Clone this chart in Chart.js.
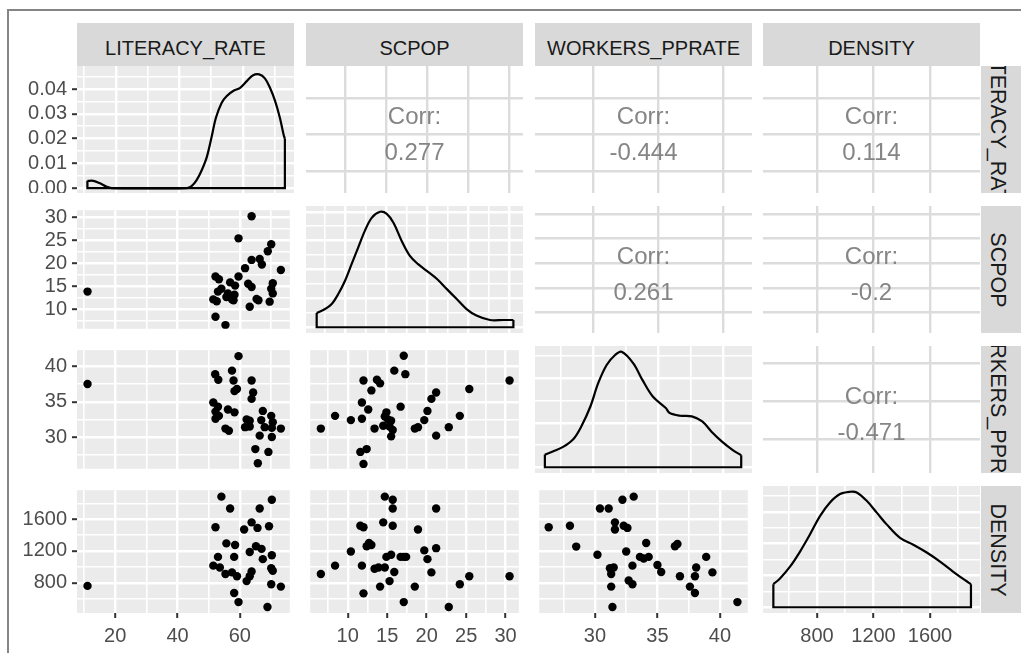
<!DOCTYPE html>
<html>
<head>
<meta charset="utf-8">
<title>Pairs plot</title>
<script src="https://cdn.jsdelivr.net/npm/chart.js@4.4.1/dist/chart.umd.min.js"></script>
<style>
  html, body { margin: 0; padding: 0; background: #fff; }
  body { width: 1021px; height: 653px; position: relative; overflow: hidden; font-family: "Liberation Sans", Arial, sans-serif; }
  .frame { position: absolute; left: 7px; top: 9px; width: 1100px; height: 700px; border-left: 2px solid #858585; border-top: 2px solid #858585; }
  .strip { position: absolute; background: #D9D9D9; color: #1A1A1A; font-size: 20px; overflow: hidden; white-space: nowrap; }
  .strip.top { height: 43px; line-height: 50px; text-align: center; }
  .strip.side span { position: absolute; top: 50%; left: 4px; font-size: 21.5px; writing-mode: vertical-rl; line-height: 26px; transform: translateY(-50%); }
  canvas { position: absolute; }
</style>
</head>
<body>
<div class="frame"></div>
<div id="plot"></div>
<script>
// ---- variables and their scales ----
const variables = ['LITERACY_RATE', 'SCPOP', 'WORKERS_PPRATE', 'DENSITY'];
const xRanges = [[7.72, 76.07], [5.25, 31.67], [25.54, 42.23], [417.7, 1954]];
const yRanges = [[8.3, 77.2], [5.79, 31.63], [25.51, 42.29], [418.6, 1965]];
const majorBreaks = [[20, 40, 60], [10, 15, 20, 25, 30], [30, 35, 40], [800, 1200, 1600]];
const minorBreaks = [[10, 30, 50, 70], [7.5, 12.5, 17.5, 22.5, 27.5], [27.5, 32.5, 37.5], [600, 1000, 1400, 1800]];

// ---- density scales on the diagonal ----
const densityMajor = [[0, 0.01, 0.02, 0.03, 0.04], [0, 0.02, 0.04, 0.06, 0.08], [0, 0.05, 0.1], [0, 0.0002, 0.0004, 0.0006]];
const densityMinor = [[0.005, 0.015, 0.025, 0.035, 0.045], [0.01, 0.03, 0.05, 0.07], [0.025, 0.075, 0.125], [0.0001, 0.0003, 0.0005, 0.0007]];
const literacyDensityRange = [-0.002, 0.0493];

// ---- kernel density curves ----
const literacyCurveX = [11.0, 12.9, 15.0, 17.1, 18.6, 42.3, 43.8, 45.4, 47.0, 48.6, 50.1, 51.5, 53.3, 54.9, 56.9, 59.1, 61.2, 63.2, 65.1, 66.9, 68.5, 70.1, 71.6, 72.9, 73.2];
const literacyCurveY = [0.0029, 0.0029, 0.0019, 0.0005, 0.0, 0.0, 0.0008, 0.0032, 0.0072, 0.0125, 0.0205, 0.0285, 0.0345, 0.0372, 0.0392, 0.0405, 0.0432, 0.0456, 0.0459, 0.0443, 0.0405, 0.0352, 0.0285, 0.0210, 0.0200];

const scpopCurveX = [6.55, 7.57, 8.38, 9.18, 10.0, 10.8, 11.6, 12.4, 13.25, 14.26, 15.08, 15.9, 16.9, 17.9, 18.9, 19.95, 21.2, 22.4, 23.6, 24.8, 26.0, 27.65, 29.3, 30.5];
const scpopCurveY = [0.0099, 0.0126, 0.0161, 0.0230, 0.0322, 0.0437, 0.0552, 0.0666, 0.0758, 0.0800, 0.0786, 0.0724, 0.0598, 0.0494, 0.0437, 0.0391, 0.0334, 0.0264, 0.0195, 0.0126, 0.0081, 0.0050, 0.0050, 0.0050];

const workersCurveX = [26.3, 26.95, 27.7, 28.5, 29.1, 29.8, 30.4, 31.05, 31.7, 32.2, 33.1, 33.8, 34.6, 35.6, 35.9, 36.7, 37.6, 38.4, 39.1, 39.9, 40.7, 41.4];
const workersCurveY = [0.0142, 0.0179, 0.0229, 0.0319, 0.0459, 0.0684, 0.0946, 0.1151, 0.1264, 0.1300, 0.1170, 0.0983, 0.0796, 0.0666, 0.0610, 0.0580, 0.0572, 0.0516, 0.0403, 0.0291, 0.0199, 0.0134];

const densityCurveX = [491, 538, 609, 680, 750, 821, 892, 963, 1034, 1081, 1152, 1223, 1293, 1388, 1482, 1577, 1671, 1765, 1848, 1890];
const densityCurveY = [0.000145, 0.000181, 0.000255, 0.000350, 0.000457, 0.000573, 0.000659, 0.000712, 0.000726, 0.000722, 0.000669, 0.000595, 0.000521, 0.000436, 0.000393, 0.000344, 0.000287, 0.000223, 0.000170, 0.000145];

// ---- scatter pairs [x, y] ----
const literacyVsScpop = [[11.1,13.9],[63.8,30.3],[59.6,25.5],[70.1,24.2],[69.0,22.7],[63.8,20.8],[66.4,21.0],[67.1,19.8],[61.7,19.0],[73.2,18.6],[52.2,17.2],[53.3,16.6],[59.6,17.2],[56.9,15.9],[58.5,15.2],[62.7,15.6],[63.8,14.9],[70.6,15.7],[70.1,14.5],[54.1,14.5],[53.0,13.9],[56.2,13.5],[58.3,13.2],[55.7,12.7],[70.6,13.5],[51.5,12.2],[52.6,11.8],[57.5,12.2],[58.0,12.0],[65.4,12.3],[66.0,12.0],[69.6,11.7],[63.2,10.6],[52.2,8.4],[55.4,6.6]];
const literacyVsWorkers = [[11.1,37.5],[59.6,41.45],[52.1,38.9],[53.1,38.1],[57.5,39.4],[58.0,38.0],[63.8,38.0],[59.1,36.8],[58.3,36.5],[64.3,36.3],[63.8,35.4],[51.5,34.9],[53.0,34.3],[56.2,33.9],[58.3,33.5],[52.2,33.6],[53.3,33.0],[52.2,32.6],[67.4,33.7],[70.1,33.0],[62.2,32.5],[63.2,32.3],[66.9,32.4],[70.6,32.1],[61.7,31.4],[63.2,31.5],[68.0,31.4],[70.3,31.3],[73.2,31.2],[55.4,31.2],[56.5,30.9],[66.4,30.2],[70.3,30.0],[65.0,28.3],[69.2,27.9],[65.8,26.3]];
const literacyVsDensity = [[11.1,760],[54.1,1884],[70.3,1844],[56.9,1734],[66.4,1734],[52.2,1499],[63.8,1560],[61.4,1470],[65.7,1490],[69.4,1511],[55.7,1295],[58.5,1275],[65.2,1259],[67.0,1226],[63.2,1186],[70.3,1146],[58.2,1125],[53.0,1125],[67.4,1097],[51.5,1015],[53.6,991],[70.1,982],[70.6,951],[55.4,909],[57.5,930],[59.1,881],[63.8,942],[63.2,881],[62.2,820],[70.1,780],[73.2,751],[58.2,671],[59.6,556],[68.9,495]];
const scpopVsWorkers = [[6.6,31.2],[8.4,33.0],[10.4,32.4],[11.8,32.6],[11.8,34.9],[12.6,33.9],[12.0,38.0],[13.7,38.1],[14.1,37.6],[13.0,36.6],[15.9,39.4],[17.1,41.5],[17.3,38.9],[16.7,34.3],[14.9,33.5],[14.7,32.9],[15.1,32.5],[15.5,32.3],[14.5,31.6],[13.4,31.2],[15.3,31.5],[15.7,31.0],[15.5,30.1],[11.6,27.9],[12.4,28.3],[12.0,26.2],[18.5,31.2],[18.9,31.4],[19.7,32.4],[20.1,33.7],[20.6,35.4],[21.2,36.3],[21.2,30.2],[22.8,31.4],[24.2,33.0],[25.4,36.8],[30.5,38.0]];
const scpopVsDensity = [[6.6,909],[8.4,1015],[10.4,1194],[11.8,1015],[12.0,666],[11.6,1518],[12.0,1499],[12.4,1259],[12.7,1300],[13.0,1275],[13.4,975],[13.9,991],[14.7,991],[14.1,751],[14.5,1560],[14.7,1884],[15.7,1844],[15.7,1734],[15.7,1518],[14.9,1125],[15.5,1153],[15.9,934],[15.3,820],[16.7,1125],[17.1,1125],[17.4,1125],[17.1,556],[18.5,751],[18.9,1470],[19.7,1207],[20.1,1097],[20.6,930],[21.2,1734],[21.2,1235],[22.8,495],[24.2,780],[25.4,881],[30.5,881]];
const workersVsDensity = [[26.3,1499],[28.0,1518],[28.5,1255],[30.2,1153],[30.4,1734],[31.1,1734],[32.2,1844],[31.6,1560],[31.6,1470],[32.3,1518],[32.5,1194],[31.2,982],[31.5,991],[31.3,909],[31.3,751],[31.4,495],[33.1,1884],[32.6,1490],[34.1,1300],[33.6,1125],[33.9,1104],[34.3,1125],[33.0,1015],[32.7,829],[33.0,780],[35.0,1024],[35.3,934],[36.4,1259],[36.6,1287],[36.8,881],[38.1,991],[38.0,881],[37.6,751],[38.0,671],[38.9,1125],[39.4,930],[41.4,556]];

// ---- correlations shown above the diagonal (row, column, value) ----
const correlations = [[0, 1, 0.277], [0, 2, -0.444], [0, 3, 0.114], [1, 2, 0.261], [1, 3, -0.2], [2, 3, -0.471]];

// ---- layout ----
const FONT = '"Liberation Sans", Arial, sans-serif';
const colLeft = [77, 306, 535, 763];
const rowTop = [66, 206, 346, 486];
const PW = 217, PH = 127, AXIS_W = 77, AXIS_H = 40;

const curves = [
  [literacyCurveX, literacyCurveY],
  [scpopCurveX, scpopCurveY],
  [workersCurveX, workersCurveY],
  [densityCurveX, densityCurveY]
];
const scatterPairs = {
  '1,0': literacyVsScpop, '2,0': literacyVsWorkers, '3,0': literacyVsDensity,
  '2,1': scpopVsWorkers, '3,1': scpopVsDensity, '3,2': workersVsDensity
};

const panelBackground = {
  id: 'panelBackground',
  beforeDraw(chart, args, opts) {
    const a = chart.chartArea, ctx = chart.ctx;
    ctx.save();
    ctx.fillStyle = opts.color || '#EBEBEB';
    ctx.fillRect(a.left, a.top, a.right - a.left, a.bottom - a.top);
    ctx.restore();
  }
};
const corrText = {
  id: 'corrText',
  afterDraw(chart, args, opts) {
    if (opts.value === undefined) return;
    const a = chart.chartArea, ctx = chart.ctx;
    const cx = (a.left + a.right) / 2, cy = (a.top + a.bottom) / 2;
    ctx.save();
    ctx.font = '24px ' + FONT;
    ctx.fillStyle = '#858585';
    ctx.textAlign = 'center';
    ctx.textBaseline = 'alphabetic';
    ctx.fillText('Corr:', cx, cy - 14.5 + 8.6);
    ctx.fillText(String(opts.value), cx, cy + 22.3 + 8.6);
    ctx.restore();
  }
};
Chart.register(panelBackground, corrText);

function tickList(majors, minors) {
  return majors.map(v => ({ value: v, isMajor: true }))
    .concat(minors.map(v => ({ value: v, isMajor: false })))
    .sort((a, b) => a.value - b.value);
}

function makeScale(horizontal, range, majors, minors, labelled, format, upper) {
  return {
    type: 'linear',
    position: horizontal ? 'bottom' : 'left',
    min: range[0], max: range[1],
    afterBuildTicks: s => { s.ticks = tickList(majors, upper ? [] : minors); },
    afterFit: s => {
      if (horizontal) s.height = labelled ? AXIS_H : 0; else s.width = labelled ? AXIS_W : 0;
      s.paddingLeft = s.paddingRight = s.paddingTop = s.paddingBottom = 0;
    },
    border: { display: false },
    grid: {
      drawTicks: labelled,
      tickLength: 5,
      color: upper ? '#DCDCDC' : '#FFFFFF',
      lineWidth: ctx => (ctx.tick && ctx.tick.isMajor) ? 2.4 : 1.6,
      tickColor: ctx => (ctx.tick && ctx.tick.isMajor) ? '#333333' : 'rgba(0,0,0,0)',
      tickWidth: 2
    },
    ticks: {
      display: labelled, autoSkip: false, maxRotation: 0, minRotation: 0,
      padding: horizontal ? 6 : 5,
      color: '#4D4D4D',
      font: { family: FONT, size: 20 },
      callback: (v, i, ts) => ts[i].isMajor ? format(v) : ''
    }
  };
}

const plainFormat = v => String(v);
const densityFormat = v => v.toFixed(2);

function addPanel(r, c) {
  const left = c === 0 ? 0 : colLeft[c];
  const width = PW + (c === 0 ? AXIS_W : 0);
  const height = PH + (r === 3 ? AXIS_H : 0);
  const canvas = document.createElement('canvas');
  canvas.width = width; canvas.height = height;
  canvas.style.left = left + 'px';
  canvas.style.top = rowTop[r] + 'px';
  canvas.style.width = width + 'px';
  canvas.style.height = height + 'px';
  document.getElementById('plot').appendChild(canvas);

  const upper = r < c;
  const xScale = makeScale(true, xRanges[c], majorBreaks[c], minorBreaks[c], r === 3, plainFormat, upper);
  let yScale, datasets = [], corr;

  if (r === c) {
    const [cx, cy] = curves[c];
    const peak = Math.max(...cy);
    const yRange = r === 0 ? literacyDensityRange : [-0.05 * peak, 1.05 * peak];
    yScale = makeScale(false, yRange, densityMajor[r], densityMinor[r], c === 0, densityFormat, false);
    const n = cx.length;
    datasets.push({
      data: cx.map((x, i) => ({ x, y: cy[i] })),
      showLine: true, borderColor: '#000', borderWidth: 2.2, pointRadius: 0, tension: 0.35, fill: false
    });
    datasets.push({
      data: [{ x: cx[0], y: cy[0] }, { x: cx[0], y: 0 }, { x: cx[n - 1], y: 0 }, { x: cx[n - 1], y: cy[n - 1] }],
      showLine: true, borderColor: '#000', borderWidth: 2.2, pointRadius: 0, tension: 0, fill: false
    });
  } else if (r > c) {
    yScale = makeScale(false, yRanges[r], majorBreaks[r], minorBreaks[r], c === 0, plainFormat, false);
    datasets.push({
      data: scatterPairs[r + ',' + c].map(p => ({ x: p[0], y: p[1] })),
      pointRadius: 4.2, pointBackgroundColor: '#000', pointBorderWidth: 0, showLine: false
    });
  } else {
    yScale = makeScale(false, yRanges[r], majorBreaks[r], minorBreaks[r], false, plainFormat, true);
    const found = correlations.find(k => k[0] === r && k[1] === c);
    corr = found ? found[2] : undefined;
  }

  new Chart(canvas, {
    type: 'scatter',
    data: { datasets },
    options: {
      responsive: false, animation: false, devicePixelRatio: 1,
      layout: { padding: 0 },
      scales: { x: xScale, y: yScale },
      plugins: {
        legend: { display: false }, tooltip: { enabled: false },
        panelBackground: { color: upper ? '#FFFFFF' : '#EBEBEB' },
        corrText: { value: corr }
      }
    }
  });
}

// strips
const plot = document.getElementById('plot');
variables.forEach((name, i) => {
  const top = document.createElement('div');
  top.className = 'strip top';
  top.style.left = colLeft[i] + 'px'; top.style.top = '23px'; top.style.width = PW + 'px';
  top.textContent = name;
  plot.appendChild(top);

  const side = document.createElement('div');
  side.className = 'strip side';
  side.style.left = '981px'; side.style.top = rowTop[i] + 'px'; side.style.width = '45px'; side.style.height = PH + 'px';
  const span = document.createElement('span');
  span.textContent = name;
  side.appendChild(span);
  plot.appendChild(side);
});

for (let r = 0; r < 4; r++) for (let c = 0; c < 4; c++) addPanel(r, c);
</script>
</body>
</html>
